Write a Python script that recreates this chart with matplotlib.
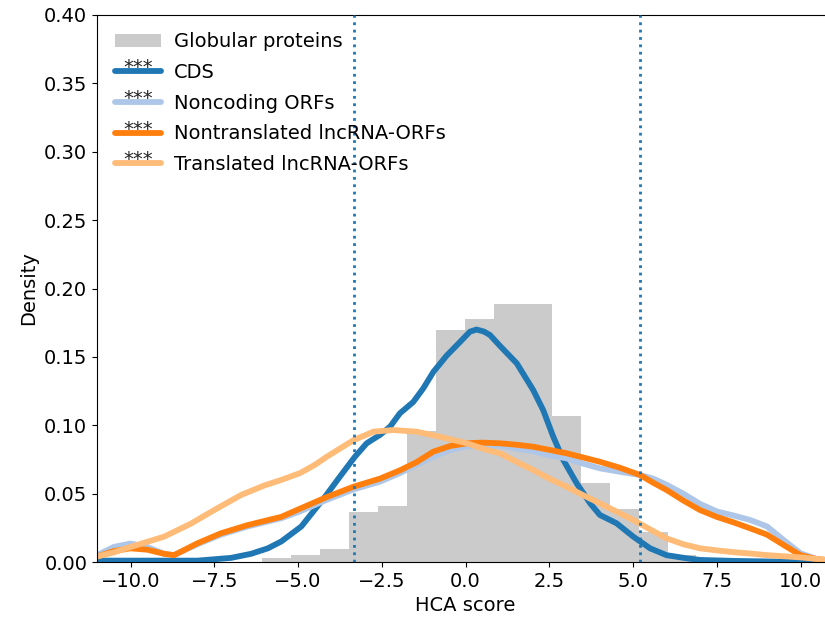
import numpy as np
import matplotlib
matplotlib.use("Agg")
import matplotlib.pyplot as plt
from matplotlib.legend_handler import HandlerLine2D
from matplotlib.text import Text

# histogram of globular proteins (bin edges and densities)
glob_edges = [-6.08, -5.215, -4.35, -3.485, -2.62, -1.755, -0.89, -0.025, 0.84,
              1.705, 2.57, 3.435, 4.30, 5.165, 6.03, 6.895]
glob_dens = [0.003, 0.005, 0.0097, 0.0366, 0.0407, 0.096, 0.170, 0.178, 0.1887,
             0.1887, 0.107, 0.0575, 0.0385, 0.022, 0.005]

# KDE curves
cds_x = [-11.0, -10.0, -9.0, -8.0, -7.5, -7.0, -6.4, -5.9, -5.5, -4.9, -4.19, -3.75,
         -3.3, -2.95, -2.55, -2.25, -1.96, -1.56, -1.26, -0.96, -0.56, -0.16, 0.13,
         0.33, 0.55, 0.73, 1.03, 1.53, 2.02, 2.32, 2.62, 2.92, 3.32, 3.72, 4.01, 4.51,
         5.01, 5.51, 6.0, 6.6, 7.0, 8.0, 9.0, 10.0, 11.0]
cds_y = [0.001, 0.001, 0.001, 0.001, 0.002, 0.003, 0.006, 0.010, 0.015, 0.026, 0.0478,
         0.0624, 0.077, 0.0868, 0.093, 0.099, 0.1087, 0.117, 0.127, 0.139, 0.151,
         0.161, 0.1684, 0.170, 0.1685, 0.166, 0.158, 0.1453, 0.1258, 0.111, 0.0916,
         0.0746, 0.0575, 0.0429, 0.0344, 0.0283, 0.0185, 0.010, 0.005, 0.0027, 0.0015,
         0.0008, 0.0004, 0.0002, 0.0]

nonc_x = [-11.0, -10.5, -10.0, -9.5, -9.0, -8.7, -8.0, -7.3, -6.5, -5.5, -4.94, -4.14,
          -3.35, -2.55, -1.96, -1.46, -0.96, -0.46, 0.04, 0.5, 1.03, 1.5, 2.02, 2.5,
          3.02, 3.5, 4.01, 4.6, 5.21, 5.6, 6.0, 6.5, 7.0, 7.5, 8.0, 8.5, 9.0, 9.5, 10.0,
          10.5, 11.0]
nonc_y = [0.005, 0.011, 0.0135, 0.011, 0.006, 0.005, 0.013, 0.020, 0.026, 0.032,
          0.037, 0.0455, 0.053, 0.0588, 0.065, 0.071, 0.077, 0.082, 0.0845, 0.085,
          0.085, 0.083, 0.081, 0.078, 0.0758, 0.072, 0.0685, 0.066, 0.0636, 0.061,
          0.0565, 0.050, 0.0425, 0.037, 0.034, 0.0307, 0.026, 0.016, 0.0064, 0.002,
          0.001]

nontr_x = [-11.0, -10.5, -10.0, -9.5, -9.0, -8.7, -8.0, -7.3, -6.5, -5.5, -4.94, -4.14,
           -3.35, -2.55, -1.96, -1.46, -0.96, -0.46, 0.04, 0.5, 1.03, 1.5, 2.02, 2.5,
           3.02, 3.5, 4.01, 4.6, 5.21, 5.6, 6.0, 6.5, 7.0, 7.5, 8.0, 8.5, 9.0, 9.5,
           10.0, 10.5, 11.0]
nontr_y = [0.004, 0.008, 0.010, 0.009, 0.006, 0.005, 0.0137, 0.021, 0.027, 0.033,
           0.039, 0.0475, 0.055, 0.061, 0.067, 0.073, 0.0807, 0.0848, 0.0868, 0.0873,
           0.0868, 0.0858, 0.0843, 0.082, 0.0795, 0.0765, 0.0733, 0.069, 0.0636, 0.058,
           0.0527, 0.045, 0.038, 0.033, 0.029, 0.0246, 0.020, 0.0124, 0.005, 0.002,
           0.001]

trans_x = [-11.0, -10.5, -10.0, -9.0, -8.2, -7.5, -6.7, -6.0, -5.5, -4.94, -4.5, -4.14,
           -3.35, -2.75, -2.16, -1.46, -0.76, 0.04, 0.63, 1.03, 1.5, 2.02, 2.5, 3.02,
           3.5, 4.01, 4.5, 5.01, 5.5, 6.0, 6.5, 7.0, 7.5, 8.0, 8.5, 9.0, 10.0, 11.0]
trans_y = [0.004, 0.007, 0.011, 0.0185, 0.028, 0.038, 0.049, 0.056, 0.060, 0.065,
           0.071, 0.077, 0.089, 0.0953, 0.0965, 0.0953, 0.0916, 0.0868, 0.082, 0.0795,
           0.0735, 0.0673, 0.061, 0.055, 0.049, 0.0429, 0.037, 0.0307, 0.024, 0.0173,
           0.013, 0.010, 0.0085, 0.0072, 0.0062, 0.005, 0.0034, 0.001]

cutoffs = [-3.32, 5.21]

labels = ["Globular proteins", "CDS", "Noncoding ORFs",
          "Nontranslated lncRNA-ORFs", "Translated lncRNA-ORFs"]
colors = ["#1f77b4", "#aec7e8", "#ff7f0e", "#ffbb78"]


class StarHandler(HandlerLine2D):
    # legend line with "***" written above it
    def create_artists(self, legend, orig_handle, xdescent, ydescent, width,
                       height, fontsize, trans):
        arts = super().create_artists(legend, orig_handle, xdescent, ydescent,
                                      width, height, fontsize, trans)
        t = Text(width / 2 - xdescent, (height - ydescent) / 2 - 1.5, "***",
                 ha="center", va="baseline", fontsize=fontsize, color="#222222")
        t.set_transform(trans)
        return list(arts) + [t]


plt.rcParams["font.size"] = 14

fig = plt.figure(figsize=(8.25, 6.27), dpi=100)
ax = fig.add_axes([97 / 825, 65 / 627, 737 / 825, 547 / 627])

edges = np.array(glob_edges)
ax.bar(edges[:-1], glob_dens, width=np.diff(edges), align="edge",
       color="#cbcbcb", label=labels[0], zorder=1)

series = [(cds_x, cds_y), (nonc_x, nonc_y), (nontr_x, nontr_y), (trans_x, trans_y)]
lines = []
for (xs, ys), c, lab in zip(series, colors, labels[1:]):
    ln, = ax.plot(xs, ys, color=c, lw=4.2, label=lab, zorder=2,
                  solid_joinstyle="round", solid_capstyle="round")
    lines.append(ln)

for c in cutoffs:
    ax.axvline(c, color="#1f77b4", ls=":", lw=2, zorder=3)

ax.set_xlim(-11, 11)
ax.set_ylim(0, 0.40)
ax.set_xticks([-10, -7.5, -5, -2.5, 0, 2.5, 5, 7.5, 10])
ax.set_xticklabels(["\u221210.0", "\u22127.5", "\u22125.0", "\u22122.5", "0.0",
                    "2.5", "5.0", "7.5", "10.0"])
ax.set_yticks(np.arange(0, 0.41, 0.05))
ax.set_xlabel("HCA score")
ax.set_ylabel("Density")
ax.spines["right"].set_visible(False)

handles, labs = ax.get_legend_handles_labels()
order = [labs.index(l) for l in labels]
hmap = {ln: StarHandler() for ln in lines}
ax.legend([handles[i] for i in order], [labs[i] for i in order], loc="upper left",
          frameon=False, handlelength=2.4, handletextpad=0.65, labelspacing=0.6,
          handler_map=hmap)

fig.savefig("out.png", dpi=100)
